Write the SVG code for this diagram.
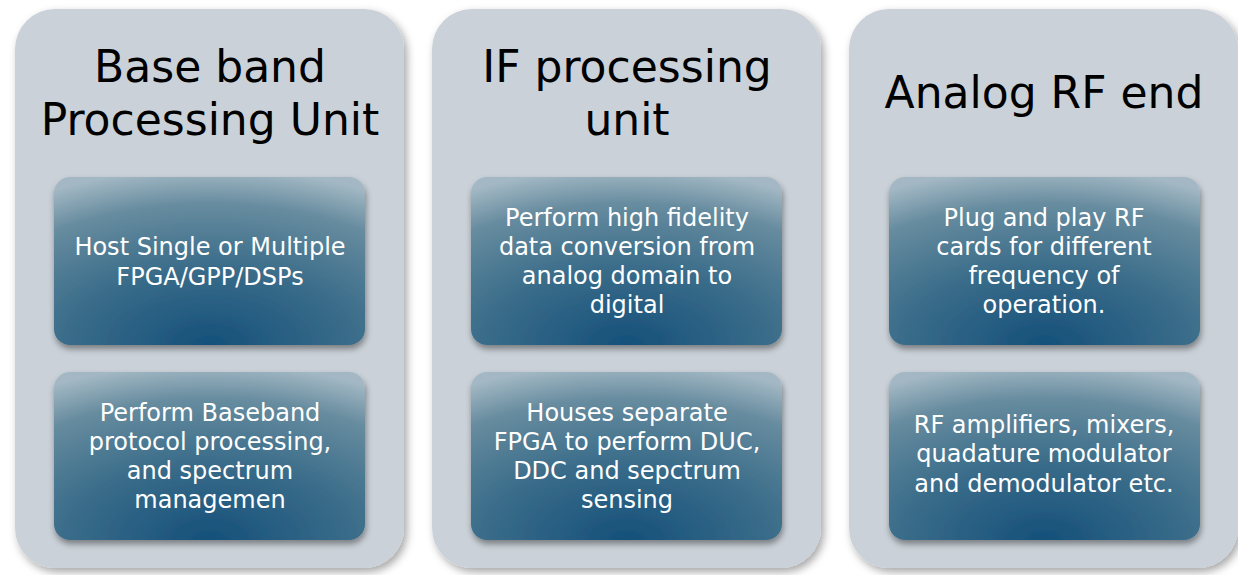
<svg xmlns="http://www.w3.org/2000/svg" width="1238" height="575" viewBox="0 0 1238 575">
<defs>
<style>
.panel{fill:#cad1d8;filter:url(#psh)}
.box{fill:url(#bg);filter:url(#bsh)}
.title{font-family:"DejaVu Sans","Liberation Sans",sans-serif;font-size:44px;fill:#000;text-anchor:middle}
.body{font-family:"DejaVu Sans","Liberation Sans",sans-serif;font-size:24px;fill:#fff;text-anchor:middle}
</style>
<radialGradient id="bg" cx="0.5" cy="1" r="1.05" fx="0.5" fy="1">
<stop offset="0" stop-color="#15507a"/>
<stop offset="0.45" stop-color="#3b6d8a"/>
<stop offset="0.8" stop-color="#678c9f"/>
<stop offset="1" stop-color="#a3b8c4"/>
</radialGradient>
<filter id="psh" x="-10%" y="-10%" width="125%" height="125%">
<feDropShadow dx="3" dy="4" stdDeviation="4" flood-color="#000" flood-opacity="0.35"/>
</filter>
<filter id="bsh" x="-10%" y="-10%" width="125%" height="130%">
<feDropShadow dx="1" dy="4" stdDeviation="3" flood-color="#000" flood-opacity="0.4"/>
</filter>
</defs>

<g id="panel-baseband">
<rect class="panel" x="15" y="9" width="389" height="559" rx="40"/>
<text class="title" x="210" y="82">Base band</text>
<text class="title" x="210" y="135">Processing Unit</text>
<g id="bb-box1">
<rect class="box" x="54" y="177" width="311" height="168" rx="16"/>
<text class="body" x="210" y="255">Host Single or Multiple</text>
<text class="body" x="210" y="285">FPGA/GPP/DSPs</text>
</g>
<g id="bb-box2">
<rect class="box" x="54" y="372" width="311" height="168" rx="16"/>
<text class="body" x="210" y="421">Perform Baseband</text>
<text class="body" x="210" y="450">protocol processing,</text>
<text class="body" x="210" y="479">and spectrum</text>
<text class="body" x="210" y="508">managemen</text>
</g>
</g>

<g id="panel-if">
<rect class="panel" x="432" y="9" width="389" height="559" rx="40"/>
<text class="title" x="627" y="82">IF processing</text>
<text class="title" x="627" y="135">unit</text>
<g id="if-box1">
<rect class="box" x="471" y="177" width="311" height="168" rx="16"/>
<text class="body" x="627" y="226">Perform high fidelity</text>
<text class="body" x="627" y="255">data conversion from</text>
<text class="body" x="627" y="284">analog domain to</text>
<text class="body" x="627" y="313">digital</text>
</g>
<g id="if-box2">
<rect class="box" x="471" y="372" width="311" height="168" rx="16"/>
<text class="body" x="627" y="421">Houses separate</text>
<text class="body" x="627" y="450">FPGA to perform DUC,</text>
<text class="body" x="627" y="479">DDC and sepctrum</text>
<text class="body" x="627" y="508">sensing</text>
</g>
</g>

<g id="panel-rf">
<rect class="panel" x="849" y="9" width="389" height="559" rx="40"/>
<text class="title" x="1044" y="108">Analog RF end</text>
<g id="rf-box1">
<rect class="box" x="889" y="177" width="311" height="168" rx="16"/>
<text class="body" x="1044" y="226">Plug and play RF</text>
<text class="body" x="1044" y="255">cards for different</text>
<text class="body" x="1044" y="284">frequency of</text>
<text class="body" x="1044" y="313">operation.</text>
</g>
<g id="rf-box2">
<rect class="box" x="889" y="372" width="311" height="168" rx="16"/>
<text class="body" x="1044" y="433">RF amplifiers, mixers,</text>
<text class="body" x="1044" y="462">quadature modulator</text>
<text class="body" x="1044" y="492">and demodulator etc.</text>
</g>
</g>

<g id="connectors"></g>
</svg>
